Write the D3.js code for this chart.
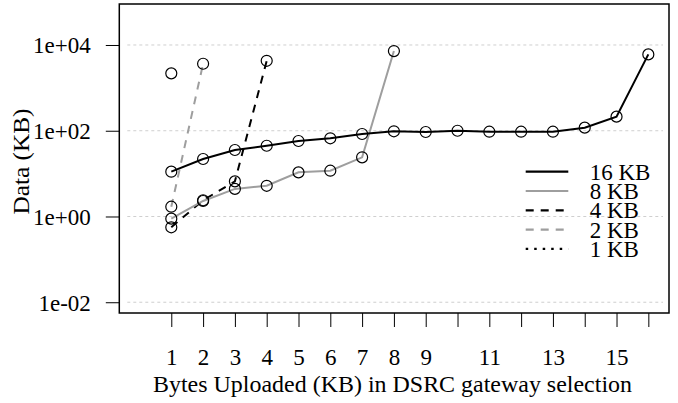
<!DOCTYPE html>
<html>
<head>
<meta charset="utf-8">
<script src="https://cdn.jsdelivr.net/npm/d3@7"></script>
<style>
  body { margin: 0; background: #fff; }
  text { font-family: "Liberation Serif", "Times New Roman", serif; }
</style>
</head>
<body>
<div id="chart"></div>
<script>
// chunk sizes shown in the legend
const seriesNames = ['16 KB', '8 KB', '4 KB', '2 KB', '1 KB'];
// data (KB) per uploaded size, x = 1..n
const kb16 = [11.1, 21.9, 35.5, 44.7, 57.7, 66.7, 84, 97, 93.5, 100, 95, 95, 95, 118, 213, 6040];
const kb8 = [0.89, 2.3, 4.4, 5.2, 10.7, 11.7, 24, 7210];
const kb4 = [0.56, 2.39, 6.6, 4280];
const kb2 = [1.69, 3650];
const kb1 = [2180];
const xTicks = d3.range(1, 17);
const xTickLabels = [1, 2, 3, 4, 5, 6, 7, 8, 9, 11, 13, 15];
const yTicks = [1e-2, 1, 1e2, 1e4];

const W = 678, H = 403;
const margin = { top: 4, right: 9, bottom: 90, left: 119.3 };
const width = W - margin.left - margin.right;
const height = H - margin.top - margin.bottom;
const FONT = 23;

const svg = d3.select('#chart').append('svg')
  .attr('width', W)
  .attr('height', H);

const g = svg.append('g')
  .attr('transform', 'translate(' + margin.left + ',' + margin.top + ')');

const x = d3.scaleLinear().domain([-0.635, 16.65]).range([0, width]);
const y = d3.scaleLog().domain([Math.pow(10, -2.251), Math.pow(10, 4.956)]).range([height, 0]);

// grid lines
g.append('g').selectAll('line')
  .data(yTicks)
  .join('line')
  .attr('x1', 8).attr('x2', width - 6)
  .attr('y1', d => y(d)).attr('y2', d => y(d))
  .attr('stroke', '#cfcfcf')
  .attr('stroke-width', 1)
  .attr('stroke-dasharray', '3,3');

// y axis
const yAxis = d3.axisLeft(y)
  .tickValues(yTicks)
  .tickSize(13.5)
  .tickPadding(15)
  .tickFormat(d => {
    const e = Math.round(Math.log10(d));
    return '1e' + (e < 0 ? '-' : '+') + String(Math.abs(e)).padStart(2, '0');
  });
g.append('g')
  .attr('class', 'y axis')
  .call(yAxis)
  .call(s => s.select('.domain').remove())
  .call(s => s.selectAll('line').attr('stroke', '#000'))
  .call(s => s.selectAll('text').attr('font-size', FONT).attr('fill', '#000').attr('dy', '0.34em'));

// x axis
const xAxis = d3.axisBottom(x)
  .tickValues(xTicks)
  .tickSize(14)
  .tickPadding(22)
  .tickFormat(d => xTickLabels.includes(d) ? d : '');
g.append('g')
  .attr('class', 'x axis')
  .attr('transform', 'translate(0,' + height + ')')
  .call(xAxis)
  .call(s => s.select('.domain').remove())
  .call(s => s.selectAll('line').attr('stroke', '#000'))
  .call(s => s.selectAll('text').attr('font-size', FONT).attr('fill', '#000').attr('dy', '0.71em'));

// box
g.append('rect')
  .attr('width', width).attr('height', height)
  .attr('fill', 'none')
  .attr('stroke', '#000')
  .attr('stroke-width', 1.5);

// axis titles
svg.append('text')
  .attr('x', 392.5)
  .attr('y', 392)
  .attr('text-anchor', 'middle')
  .attr('font-size', FONT)
  .attr('textLength', 479)
  .attr('lengthAdjust', 'spacingAndGlyphs')
  .text('Bytes Uploaded (KB) in DSRC gateway selection');

svg.append('text')
  .attr('transform', 'translate(29,161.5) rotate(-90)')
  .attr('text-anchor', 'middle')
  .attr('font-size', FONT)
  .attr('textLength', 106)
  .attr('lengthAdjust', 'spacingAndGlyphs')
  .text('Data (KB)');

// series
const styles = [
  { values: kb16, color: '#000', dash: null },
  { values: kb8, color: '#9e9e9e', dash: null },
  { values: kb4, color: '#000', dash: '8,7' },
  { values: kb2, color: '#9e9e9e', dash: '8,7' },
  { values: kb1, color: '#000', dash: '2.5,6' }
];

const line = d3.line()
  .x((d, i) => x(i + 1))
  .y(d => y(d));

styles.slice().reverse().forEach(s => {
  g.append('path')
    .datum(s.values)
    .attr('fill', 'none')
    .attr('stroke', s.color)
    .attr('stroke-width', 2)
    .attr('stroke-dasharray', s.dash)
    .attr('d', line);
});

styles.forEach(s => {
  g.append('g').selectAll('circle')
    .data(s.values)
    .join('circle')
    .attr('cx', (d, i) => x(i + 1))
    .attr('cy', d => y(d))
    .attr('r', 5.5)
    .attr('fill', 'none')
    .attr('stroke', '#000')
    .attr('stroke-width', 1.2);
});

// legend
const legend = svg.append('g').attr('transform', 'translate(525.7,171.7)');
const rows = legend.selectAll('g')
  .data(styles)
  .join('g')
  .attr('transform', (d, i) => 'translate(0,' + (i * 19.3) + ')');
rows.append('line')
  .attr('x1', 0).attr('x2', 42.6)
  .attr('stroke', d => d.color)
  .attr('stroke-width', 2.2)
  .attr('stroke-dasharray', d => d.dash);
rows.append('text')
  .attr('x', 64)
  .attr('dy', '0.35em')
  .attr('font-size', FONT)
  .text((d, i) => seriesNames[i]);
</script>
</body>
</html>
